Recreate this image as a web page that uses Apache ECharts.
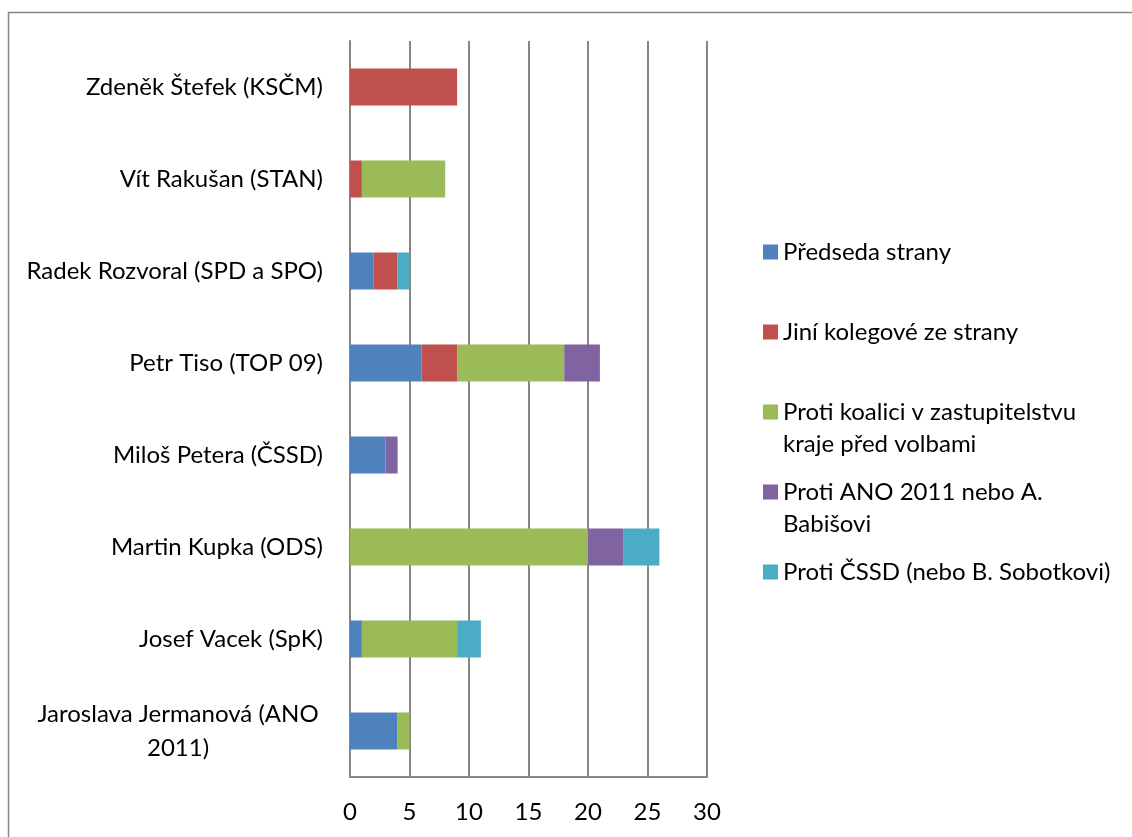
<!DOCTYPE html>
<html>
<head>
<meta charset="utf-8">
<script src="https://cdn.jsdelivr.net/npm/echarts@6/dist/echarts.min.js"></script>
<style>
html,body{margin:0;padding:0;background:#fff;}
#chart{width:1132px;height:837px;}
</style>
</head>
<body>
<div id="chart"></div>
<script>
const categories = [
  'Zdeněk Štefek (KSČM)',
  'Vít Rakušan (STAN)',
  'Radek Rozvoral (SPD a SPO)',
  'Petr Tiso (TOP 09)',
  'Miloš Petera (ČSSD)',
  'Martin Kupka (ODS)',
  'Josef Vacek (SpK)',
  'Jaroslava Jermanová (ANO 2011)'
];
const seriesNames = [
  'Předseda strany',
  'Jiní kolegové ze strany',
  'Proti koalici v zastupitelstvu kraje před volbami',
  'Proti ANO 2011 nebo A. Babišovi',
  'Proti ČSSD (nebo B. Sobotkovi)'
];
const predseda   = [0, 0, 2, 6, 3, 0, 1, 4];
const kolegove   = [9, 1, 2, 3, 0, 0, 0, 0];
const koalice    = [0, 7, 0, 9, 0, 20, 8, 1];
const protiAno   = [0, 0, 0, 3, 1, 3, 0, 0];
const protiCssd  = [0, 0, 1, 0, 0, 3, 2, 0];
const xTicks = [0, 5, 10, 15, 20, 25, 30];

const colors = ['#4F81BD', '#C0504D', '#9BBB59', '#8064A2', '#4BACC6'];
const values = [predseda, kolegove, koalice, protiAno, protiCssd];
const legendLines = {
  'Předseda strany': ['Předseda strany'],
  'Jiní kolegové ze strany': ['Jiní kolegové ze strany'],
  'Proti koalici v zastupitelstvu kraje před volbami': ['Proti koalici v zastupitelstvu', 'kraje před volbami'],
  'Proti ANO 2011 nebo A. Babišovi': ['Proti ANO 2011 nebo A.', 'Babišovi'],
  'Proti ČSSD (nebo B. Sobotkovi)': ['Proti ČSSD (nebo B. Sobotkovi)']
};
const FONT = 'Lato';
const FS = 24;
const GRAY = '#868686';

const chart = echarts.init(document.getElementById('chart'), null, {renderer: 'canvas'});
chart.setOption({
  animation: false,
  color: colors,
  textStyle: {fontFamily: FONT},
  graphic: [{
    type: 'rect', silent: true,
    shape: {x: 8.5, y: 12.5, width: 1400, height: 1400},
    style: {fill: 'none', stroke: GRAY, lineWidth: 1.5}
  }],
  grid: {left: 350, right: 425, top: 41, bottom: 60, containLabel: false, outerBoundsMode: 'none'},
  legend: {
    orient: 'vertical',
    left: 758,
    top: 199,
    itemWidth: 15,
    itemHeight: 15,
    itemGap: -16,
    icon: 'rect',
    selectedMode: false,
    data: seriesNames,
    formatter: n => {
      const l = legendLines[n];
      return '\u00a0\n' + l[0] + '\n' + (l[1] || '\u00a0');
    },
    textStyle: {fontFamily: FONT, fontSize: FS, color: '#000', lineHeight: 32}
  },
  xAxis: {
    type: 'value', min: 0, max: 30, interval: 5,
    axisLine: {show: true, lineStyle: {color: GRAY, width: 2}},
    axisTick: {show: false},
    splitLine: {show: true, lineStyle: {color: GRAY, width: 2}},
    axisLabel: {
      fontFamily: FONT, fontSize: FS, color: '#000', margin: 23,
      formatter: v => xTicks.indexOf(v) >= 0 ? String(v) : ''
    }
  },
  yAxis: {
    type: 'category', inverse: true, data: categories,
    axisLine: {show: true, lineStyle: {color: GRAY, width: 2}},
    axisTick: {show: false},
    axisLabel: {
      fontFamily: FONT, fontSize: FS, color: '#000', margin: 27, lineHeight: 34,
      formatter: v => v === 'Jaroslava Jermanová (ANO 2011)'
        ? '{c|Jaroslava Jermanová (ANO}\n{c|2011)}' : v,
      rich: {c: {fontFamily: FONT, fontSize: FS, color: '#000', width: 290, align: 'center', lineHeight: 34}}
    }
  },
  series: seriesNames.map((n, i) => ({
    name: n, type: 'bar', stack: 'total', barWidth: 37,
    data: values[i],
    itemStyle: {color: colors[i]}
  }))
});
</script>
</body>
</html>
